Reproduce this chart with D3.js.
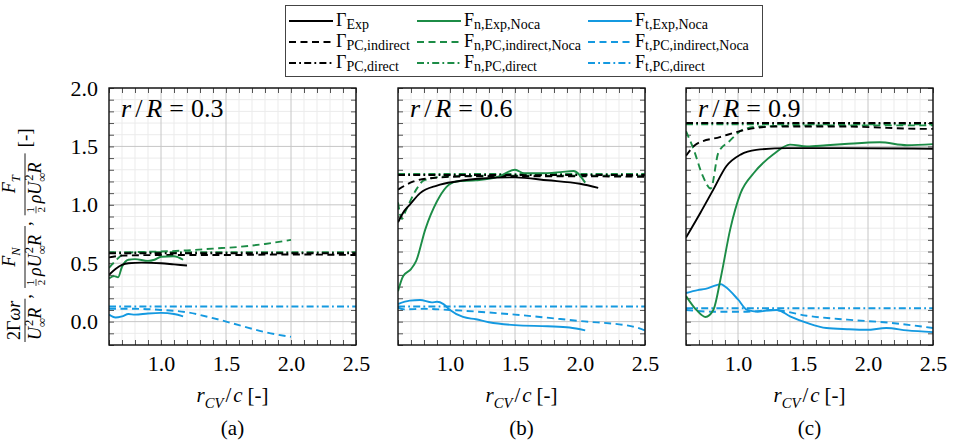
<!DOCTYPE html>
<html><head><meta charset="utf-8">
<script src="https://cdn.jsdelivr.net/npm/d3@7"></script>
<style>body{margin:0;background:#fff}svg{display:block}svg text{font-family:'Liberation Serif','Times New Roman',serif}</style>
</head><body>
<svg id="c" width="956" height="442"></svg>
<script>
// ---------- data ----------
const xTicks = [1.0, 1.5, 2.0, 2.5];
const yTicks = [0.0, 0.5, 1.0, 1.5, 2.0];
const panelLabels = ["(a)", "(b)", "(c)"];
const radii = ["0.3", "0.6", "0.9"];

// panel (a) r/R = 0.3
const a_gExp = [[0.6,0.40],[0.65,0.45],[0.7,0.485],[0.75,0.50],[0.85,0.505],[1.0,0.50],[1.1,0.49],[1.2,0.48]];
const a_gInd = [[0.6,0.55],[0.7,0.565],[1.0,0.57],[1.5,0.57],[2.0,0.575],[2.5,0.57]];
const a_gDir = [[0.6,0.585],[2.5,0.585]];
const a_fnExp = [[0.6,0.37],[0.64,0.39],[0.67,0.38],[0.7,0.47],[0.75,0.53],[0.8,0.535],[0.9,0.52],[0.95,0.53],[1.0,0.555],[1.1,0.56],[1.17,0.53]];
const a_fnInd = [[0.6,0.46],[0.65,0.52],[0.7,0.57],[0.8,0.595],[1.0,0.60],[1.2,0.61],[1.4,0.625],[1.6,0.64],[1.8,0.665],[2.0,0.70]];
const a_fnDir = [[0.6,0.595],[2.5,0.595]];
const a_ftExp = [[0.6,0.06],[0.65,0.035],[0.7,0.045],[0.75,0.065],[0.8,0.06],[0.9,0.07],[1.0,0.075],[1.1,0.065],[1.17,0.045]];
const a_ftInd = [[0.6,0.11],[0.8,0.11],[1.0,0.10],[1.2,0.08],[1.4,0.03],[1.6,-0.03],[1.8,-0.09],[2.0,-0.13]];
const a_ftDir = [[0.6,0.13],[2.5,0.13]];

// panel (b) r/R = 0.6
const b_gExp = [[0.6,0.85],[0.65,0.95],[0.69,1.0],[0.77,1.10],[0.9,1.165],[1.05,1.20],[1.25,1.225],[1.5,1.235],[1.75,1.21],[2.0,1.18],[2.14,1.145]];
const b_gInd = [[0.6,1.13],[0.72,1.20],[0.87,1.23],[1.2,1.245],[1.8,1.245],[2.5,1.24]];
const b_gDir = [[0.6,1.255],[2.5,1.255]];
const b_fnExp = [[0.6,0.26],[0.64,0.39],[0.7,0.45],[0.74,0.52],[0.81,0.79],[0.9,1.03],[0.97,1.15],[1.05,1.20],[1.2,1.21],[1.37,1.24],[1.5,1.30],[1.57,1.27],[1.7,1.27],[1.85,1.28],[1.95,1.29],[2.04,1.19]];
const b_fnInd = [[0.6,1.02],[0.63,0.88],[0.66,0.95],[0.74,1.13],[0.8,1.21],[1.0,1.245],[1.5,1.25],[2.0,1.25],[2.5,1.25]];
const b_fnDir = [[0.6,1.265],[2.5,1.265]];
const b_ftExp = [[0.6,0.15],[0.69,0.18],[0.77,0.185],[0.86,0.165],[0.9,0.17],[0.95,0.15],[1.0,0.10],[1.1,0.04],[1.2,0.02],[1.3,-0.005],[1.5,-0.03],[1.75,-0.04],[1.92,-0.05],[2.04,-0.075]];
const b_ftInd = [[0.6,0.12],[0.65,0.105],[0.8,0.11],[1.0,0.10],[1.5,0.06],[2.0,0.005],[2.4,-0.04],[2.5,-0.075]];
const b_ftDir = [[0.6,0.13],[2.5,0.13]];

// panel (c) r/R = 0.9
const c_gExp = [[0.6,0.72],[0.71,0.93],[0.81,1.13],[0.91,1.33],[1.02,1.43],[1.14,1.47],[1.38,1.485],[1.8,1.485],[2.5,1.48]];
const c_gInd = [[0.6,1.42],[0.68,1.52],[0.86,1.58],[1.07,1.645],[1.27,1.67],[1.8,1.67],[2.45,1.65],[2.5,1.65]];
const c_gDir = [[0.6,1.70],[2.5,1.70]];
const c_fnExp = [[0.6,0.22],[0.68,0.10],[0.75,0.04],[0.81,0.10],[0.87,0.39],[0.94,0.79],[1.02,1.10],[1.12,1.27],[1.27,1.43],[1.4,1.515],[1.53,1.50],[1.68,1.51],[1.82,1.52],[2.09,1.535],[2.3,1.51],[2.5,1.52]];
const c_fnInd = [[0.6,1.63],[0.66,1.47],[0.73,1.245],[0.79,1.14],[0.85,1.45],[0.93,1.54],[1.04,1.645],[1.17,1.67],[1.6,1.68],[2.5,1.68]];
const c_fnDir = [[0.6,1.69],[2.5,1.69]];
const c_ftExp = [[0.6,0.245],[0.69,0.27],[0.75,0.28],[0.87,0.32],[0.9,0.30],[1.0,0.19],[1.07,0.10],[1.15,0.085],[1.22,0.095],[1.3,0.10],[1.4,0.046],[1.53,-0.01],[1.68,-0.055],[1.84,-0.065],[1.99,-0.07],[2.14,-0.055],[2.3,-0.075],[2.5,-0.09]];
const c_ftInd = [[0.6,0.10],[0.8,0.085],[1.07,0.085],[1.27,0.10],[1.53,0.05],[1.84,0.017],[2.17,-0.01],[2.5,-0.055]];
const c_ftDir = [[0.6,0.115],[2.5,0.115]];

// ---------- styles ----------
const BLACK = "#000000", GREEN = "#1c8c46", BLUE = "#1499e0";
const DASH = "7,4.5", DASHDOT = "7,3.2,1.8,3.2";

const panels = [
  {series:[a_gExp,a_gInd,a_gDir,a_fnExp,a_fnInd,a_fnDir,a_ftExp,a_ftInd,a_ftDir]},
  {series:[b_gExp,b_gInd,b_gDir,b_fnExp,b_fnInd,b_fnDir,b_ftExp,b_ftInd,b_ftDir]},
  {series:[c_gExp,c_gInd,c_gDir,c_fnExp,c_fnInd,c_fnDir,c_ftExp,c_ftInd,c_ftDir]}
];
const seriesStyle = [
  {c:BLACK,d:null},{c:BLACK,d:DASH},{c:BLACK,d:DASHDOT},
  {c:GREEN,d:null},{c:GREEN,d:DASH},{c:GREEN,d:DASHDOT},
  {c:BLUE,d:null},{c:BLUE,d:DASH},{c:BLUE,d:DASHDOT}
];

const svg = d3.select("#c");

// rich text helper
function rich(sel, parts, base) {
  let off = 0;
  parts.forEach(p => {
    const small = p.sub || p.sup;
    const target = p.sub ? base*0.28 : (p.sup ? -base*0.42 : 0);
    const ts = sel.append("tspan").text(p.t)
      .attr("dy", target - off)
      .style("font-size", (small ? base*0.7 : base) + "px")
      .style("font-style", p.it ? "italic" : "normal");
    if (p.dx) ts.attr("dx", p.dx);
    off = target;
  });
  return sel;
}

// ---------- panels ----------
const lefts = [109, 398, 686];
const W = 247, TOP = 88, BOT = 345;
const minorX = d3.range(6, 26).map(v => v/10);
const minorY = d3.range(-2, 21).map(v => v/10);
const isMajor = v => Math.abs(v*2 - Math.round(v*2)) < 1e-6;

panels.forEach((p, i) => {
  const L = lefts[i];
  const x = d3.scaleLinear().domain([0.6, 2.5]).range([L, L + W]);
  const y = d3.scaleLinear().domain([-0.2, 2.0]).range([BOT, TOP]);
  const g = svg.append("g");

  g.append("g").selectAll("line").data(minorX.filter(v => !isMajor(v))).join("line")
    .attr("x1", d => x(d)).attr("x2", d => x(d)).attr("y1", TOP).attr("y2", BOT)
    .attr("stroke", "#ebebeb").attr("stroke-width", 1);
  g.append("g").selectAll("line").data(minorY.filter(v => !isMajor(v))).join("line")
    .attr("y1", d => y(d)).attr("y2", d => y(d)).attr("x1", L).attr("x2", L + W)
    .attr("stroke", "#ebebeb").attr("stroke-width", 1);
  g.append("g").selectAll("line").data(minorX.filter(isMajor)).join("line")
    .attr("x1", d => x(d)).attr("x2", d => x(d)).attr("y1", TOP).attr("y2", BOT)
    .attr("stroke", "#c6c6c6").attr("stroke-width", 1);
  g.append("g").selectAll("line").data(minorY.filter(isMajor)).join("line")
    .attr("y1", d => y(d)).attr("y2", d => y(d)).attr("x1", L).attr("x2", L + W)
    .attr("stroke", "#c6c6c6").attr("stroke-width", 1);

  const tickStyle = s => { s.select(".domain").remove(); s.selectAll(".tick line").attr("stroke", "#555"); };
  g.append("g").attr("transform", `translate(0,${BOT})`)
    .call(d3.axisBottom(x).tickValues(minorX).tickSizeInner(-5).tickSizeOuter(0).tickPadding(10)
      .tickFormat(d => xTicks.some(t => Math.abs(t - d) < 1e-6) ? d3.format(".1f")(d) : ""))
    .call(tickStyle)
    .call(s => s.selectAll("text").style("font-size", "22px").attr("fill", "#000"));
  g.append("g").attr("transform", `translate(0,${TOP})`)
    .call(d3.axisTop(x).tickValues(minorX).tickSizeInner(-5).tickSizeOuter(0).tickFormat(""))
    .call(tickStyle);
  g.append("g").attr("transform", `translate(${L},0)`)
    .call(d3.axisLeft(y).tickValues(minorY).tickSizeInner(-5).tickSizeOuter(0).tickPadding(11)
      .tickFormat(d => (i === 0 && yTicks.some(t => Math.abs(t - d) < 1e-6)) ? d3.format(".1f")(d) : ""))
    .call(tickStyle)
    .call(s => s.selectAll("text").style("font-size", "22px").attr("fill", "#000"));
  g.append("g").attr("transform", `translate(${L + W},0)`)
    .call(d3.axisRight(y).tickValues(minorY).tickSizeInner(-5).tickSizeOuter(0).tickFormat(""))
    .call(tickStyle);

  const cid = "clip" + i;
  svg.append("clipPath").attr("id", cid).append("rect")
    .attr("x", L).attr("y", TOP).attr("width", W).attr("height", BOT - TOP);

  const line = d3.line().x(d => x(d[0])).y(d => y(d[1])).curve(d3.curveMonotoneX);
  const lg = g.append("g").attr("clip-path", `url(#${cid})`);
  const order = [8,7,5,4,2,1,6,3,0];
  order.forEach(k => {
    lg.append("path").datum(p.series[k]).attr("d", line)
      .attr("fill", "none").attr("stroke", seriesStyle[k].c).attr("stroke-width", 1.9)
      .attr("stroke-dasharray", seriesStyle[k].d);
  });

  g.append("rect").attr("x", L).attr("y", TOP).attr("width", W).attr("height", BOT - TOP)
    .attr("fill", "none").attr("stroke", "#111").attr("stroke-width", 1.4);

  // title r/R = ...
  const t = g.append("text").attr("x", L + 12).attr("y", 117).attr("fill", "#000");
  rich(t, [{t:"r", it:true},{t:"/", dx:4},{t:"R", it:true, dx:4},{t:"=", dx:7},{t:radii[i], dx:7}], 26);

  // x label
  const cx = L + W/2;
  const xl = g.append("text").attr("x", cx).attr("y", 402).attr("text-anchor", "middle").attr("fill", "#000");
  rich(xl, [{t:"r", it:true},{t:"CV", it:true, sub:true},{t:"/", dx:2},{t:"c", it:true, dx:2},{t:"[-]", dx:5}], 21);
  g.append("text").attr("x", cx).attr("y", 435).attr("text-anchor", "middle")
    .style("font-size", "21px").text(panelLabels[i]);
});

// ---------- y label (rotated, with fractions) ----------
(function () {
  const base = 19;
  const g = svg.append("g").attr("transform", "translate(25,342) rotate(-90)");
  let pos = 0;
  function piece(parts, yb, size) {
    const t = g.append("text").attr("x", 0).attr("y", yb).attr("fill", "#000");
    rich(t, parts, size);
    return t;
  }
  function addBar(w) {
    g.append("line").attr("x1", pos).attr("x2", pos + w).attr("y1", 0).attr("y2", 0)
      .attr("stroke", "#000").attr("stroke-width", 0.9);
  }
  function frac(num, den, pad) {
    const n = piece(num, -5, 18);
    const d = piece(den, 16, 18);
    const wn = n.node().getComputedTextLength();
    const wd = d.node().getComputedTextLength();
    const w = Math.max(wn, wd) + 2 * pad;
    n.attr("x", pos + (w - wn) / 2);
    d.attr("x", pos + (w - wd) / 2);
    addBar(w);
    pos += w;
  }
  function half(xpos) {
    g.append("text").attr("x", xpos).attr("y", 9).style("font-size", "11px").attr("text-anchor", "middle").text("1");
    g.append("line").attr("x1", xpos - 3.5).attr("x2", xpos + 3.5).attr("y1", 11).attr("y2", 11).attr("stroke", "#000").attr("stroke-width", 0.7);
    g.append("text").attr("x", xpos).attr("y", 20).style("font-size", "11px").attr("text-anchor", "middle").text("2");
  }
  function fracHalf(numParts) {
    const n = piece(numParts, -10, 18);
    const d = piece([{t:"ρ", it:true},{t:"U", it:true},{t:"∞", sub:true},{t:"2", sup:true, dx:-8},{t:"R", it:true, dx:1}], 16, 18);
    const wn = n.node().getComputedTextLength();
    const wd = d.node().getComputedTextLength() + 10;
    const w = Math.max(wn, wd) + 4;
    n.attr("x", pos + (w - wn) / 2);
    const dx0 = pos + (w - wd) / 2;
    half(dx0 + 3.5);
    d.attr("x", dx0 + 10);
    addBar(w);
    pos += w;
  }
  function txt(s, gap) {
    const t = g.append("text").attr("x", pos).attr("y", 6).style("font-size", base + "px").text(s);
    pos += t.node().getComputedTextLength() + (gap || 0);
  }
  frac([{t:"2Γ"},{t:"ωr", it:true}], [{t:"U", it:true},{t:"∞", sub:true},{t:"2", sup:true, dx:-8},{t:"R", it:true, dx:1}], 2);
  txt(",", 6);
  fracHalf([{t:"F", it:true},{t:"N", it:true, sub:true}]);
  txt(",", 6);
  fracHalf([{t:"F", it:true},{t:"T", it:true, sub:true}]);
  pos += 6;
  txt("[-]");
})();

// ---------- legend ----------
(function () {
  const lg = svg.append("g");
  lg.append("rect").attr("x", 285.5).attr("y", 5.5).attr("width", 477).attr("height", 71)
    .attr("fill", "#fff").attr("stroke", "#444").attr("stroke-width", 1);
  const cols = [289, 417, 588];
  const rows = [21, 42, 63];
  const names = [
    [["Γ","Exp"],["Γ","PC,indirect"],["Γ","PC,direct"]],
    [["F","n,Exp,Noca"],["F","n,PC,indirect,Noca"],["F","n,PC,direct"]],
    [["F","t,Exp,Noca"],["F","t,PC,indirect,Noca"],["F","t,PC,direct"]]
  ];
  const colors = [BLACK, GREEN, BLUE];
  const dashes = [null, DASH, DASHDOT];
  cols.forEach((cx, ci) => rows.forEach((ry, ri) => {
    lg.append("line").attr("x1", cx).attr("x2", cx + 44).attr("y1", ry).attr("y2", ry)
      .attr("stroke", colors[ci]).attr("stroke-width", 1.9).attr("stroke-dasharray", dashes[ri]);
    const t = lg.append("text").attr("x", cx + 47).attr("y", ry + 5).attr("fill", "#000");
    const nm = names[ci][ri];
    t.append("tspan").style("font-size", "18px").text(nm[0]);
    t.append("tspan").style("font-size", "14px").attr("dy", 3).text(nm[1]);
  }));
})();
</script>
</body></html>
